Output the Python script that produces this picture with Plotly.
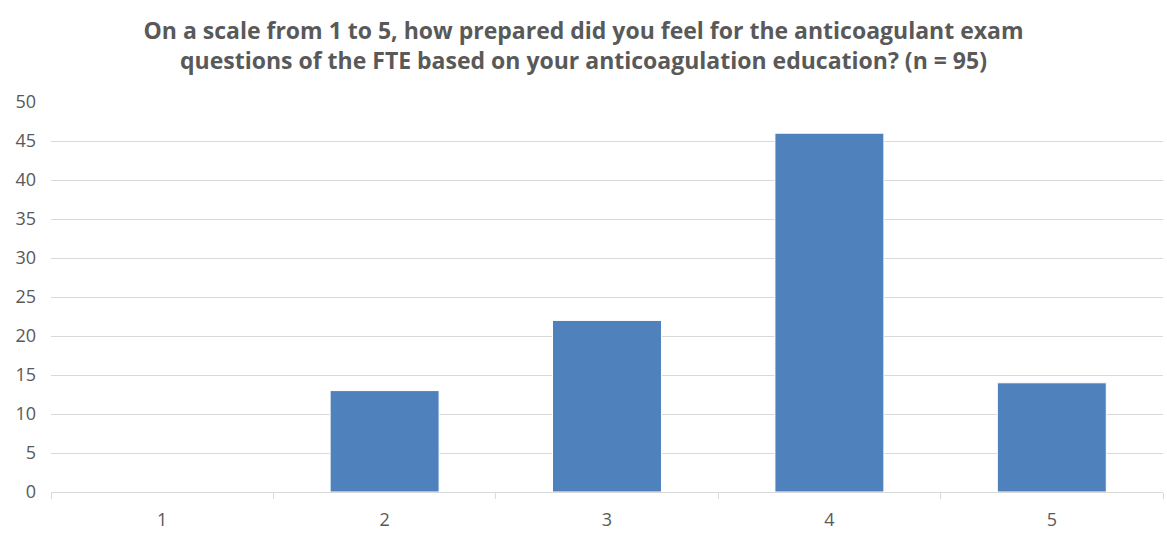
import plotly.graph_objects as go

categories = ["1", "2", "3", "4", "5"]
values = [0, 13, 22, 46, 14]
y_ticks = [0, 5, 10, 15, 20, 25, 30, 35, 40, 45, 50]
title_text = ("On a scale from 1 to 5, how prepared did you feel for the anticoagulant exam<br>"
              "questions of the FTE based on your anticoagulation education? (n = 95)")

fig = go.Figure(go.Bar(
    x=categories, y=values,
    marker=dict(color="#4F81BD", line=dict(color="#FFFFFF", width=1)),
    width=0.49,
))

fig.update_layout(
    width=1167, height=533,
    margin=dict(l=51, r=4, t=102, b=41, autoexpand=False),
    paper_bgcolor="white", plot_bgcolor="white",
    font=dict(family="Open Sans", color="#595959", size=18),
    title=dict(text="<b>" + title_text + "</b>", x=0.5, xanchor="center",
               yref="container", y=0.926, yanchor="middle",
               font=dict(family="Open Sans", size=23, color="#595959")),
    showlegend=False,
)
fig.update_xaxes(
    type="category", showline=True, linecolor="#D9D9D9", linewidth=1,
    ticks="outside", tickson="boundaries", ticklen=6, tickcolor="#D9D9D9",
    showgrid=False, tickfont=dict(size=18, color="#595959"),
    ticklabelstandoff=11, automargin=False,
)
fig.update_yaxes(
    range=[0, 50], tickvals=y_ticks, showgrid=True, gridcolor="#D9D9D9",
    gridwidth=1, zeroline=False, showline=False, ticks="",
    tickfont=dict(size=18, color="#595959"), ticklabelstandoff=14,
    automargin=False,
)

fig.write_html("out.html")
